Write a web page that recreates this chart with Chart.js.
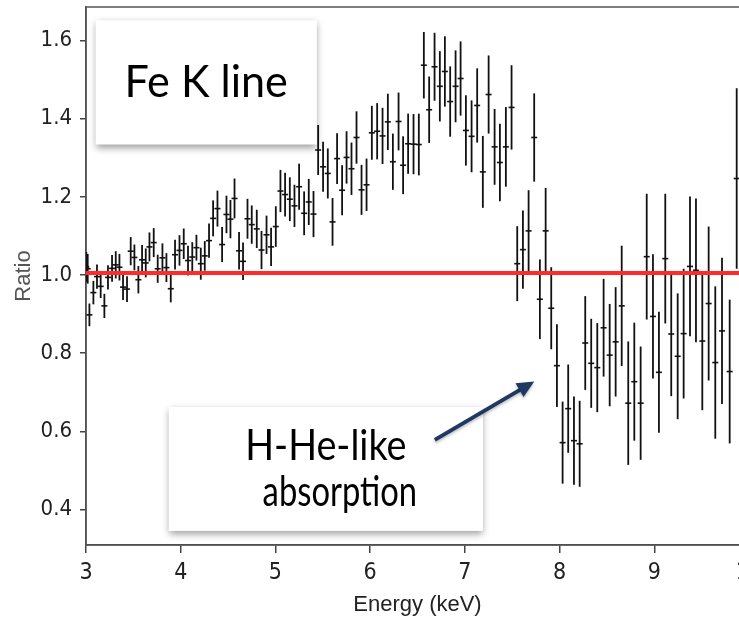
<!DOCTYPE html>
<html><head><meta charset="utf-8">
<style>
html,body{margin:0;padding:0;overflow:hidden;background:#fff}
#wrap{width:760px;height:620px;position:relative}
</style>
<script src="https://cdn.jsdelivr.net/npm/chart.js@4/dist/chart.umd.min.js"></script>
</head><body>
<div id="wrap"><canvas id="c" width="760" height="620"></canvas></div>
<script>
// ---- data ----
const energy = [3.003,3.018,3.036,3.078,3.116,3.155,3.194,3.232,3.275,3.314,
3.353,3.391,3.433,3.472,3.511,3.553,3.592,3.631,3.670,3.715,
3.757,3.807,3.849,3.895,3.940,3.987,4.032,4.077,4.122,4.166,
4.212,4.254,4.299,4.342,4.388,4.437,4.483,4.525,4.568,4.616,
4.658,4.705,4.750,4.803,4.853,4.906,4.954,5.004,5.053,5.102,
5.152,5.201,5.250,5.303,5.352,5.402,5.451,5.503,5.553,5.603,
5.651,5.704,5.751,5.803,5.856,5.909,5.962,6.018,6.074,6.131,
6.187,6.240,6.300,6.348,6.401,6.458,6.514,6.567,6.623,6.680,
6.736,6.789,6.845,6.902,6.955,7.011,7.071,7.130,7.190,7.251,
7.314,7.370,7.433,7.493,7.553,7.613,7.673,7.732,7.792,7.853,
7.912,7.972,8.032,8.091,8.152,8.212,8.271,8.334,8.398,8.465,
8.529,8.592,8.656,8.725,8.789,8.856,8.920,8.986,9.049,9.116,
9.179,9.247,9.310,9.377,9.440,9.507,9.574,9.644,9.715,9.796,
9.870];
const ratio = [1.021,1.016,0.898,0.955,0.996,0.971,0.921,0.994,1.017,1.026,
1.020,0.969,0.964,1.061,1.045,0.988,1.039,1.031,1.072,1.083,
1.016,1.044,1.019,0.965,1.052,1.063,1.080,1.037,1.046,1.070,
1.029,1.049,1.088,1.145,1.170,1.078,1.155,1.143,1.196,1.062,
1.035,1.144,1.129,1.118,1.064,1.103,1.072,1.124,1.215,1.206,
1.194,1.177,1.226,1.158,1.187,1.156,1.320,1.277,1.260,1.136,
1.298,1.217,1.301,1.272,1.352,1.218,1.231,1.364,1.368,1.356,
1.392,1.290,1.393,1.281,1.336,1.335,1.334,1.537,1.423,1.533,
1.483,1.521,1.444,1.483,1.503,1.370,1.355,1.434,1.264,1.462,
1.328,1.288,1.328,1.429,1.029,1.065,1.113,1.352,0.938,1.113,
0.915,0.768,0.571,0.658,0.576,0.568,0.826,0.774,0.763,0.865,
0.795,0.829,0.921,0.672,0.727,0.672,1.047,0.894,0.751,1.042,
0.849,0.792,0.850,1.022,1.012,0.831,0.927,0.776,0.857,0.753,
1.247];
const ratioErr = [0.038,0.038,0.029,0.030,0.031,0.030,0.031,0.031,0.034,0.035,
0.034,0.033,0.033,0.036,0.033,0.035,0.038,0.037,0.037,0.037,
0.036,0.037,0.037,0.035,0.038,0.039,0.039,0.038,0.038,0.033,
0.041,0.038,0.044,0.046,0.046,0.045,0.048,0.049,0.051,0.048,
0.048,0.051,0.049,0.049,0.049,0.049,0.049,0.052,0.054,0.056,
0.056,0.054,0.059,0.056,0.059,0.059,0.064,0.064,0.064,0.061,
0.065,0.064,0.067,0.067,0.067,0.064,0.067,0.069,0.072,0.072,
0.072,0.072,0.074,0.074,0.077,0.077,0.079,0.085,0.085,0.087,
0.090,0.090,0.090,0.092,0.095,0.090,0.092,0.095,0.092,0.100,
0.097,0.099,0.102,0.108,0.096,0.100,0.104,0.113,0.102,0.110,
0.105,0.106,0.105,0.113,0.113,0.110,0.120,0.114,0.114,0.125,
0.131,0.140,0.154,0.158,0.151,0.145,0.161,0.159,0.155,0.166,
0.159,0.161,0.166,0.179,0.184,0.177,0.197,0.195,0.187,0.184,
0.231];
const xTicks = [3,4,5,6,7,8,9,10];
const yTicks = [0.4,0.6,0.8,1.0,1.2,1.4,1.6];
const refEnergy = [3,10];
const refRatio = [1.005,1.005];
const xLabel = 'Energy (keV)';
const yLabel = 'Ratio';
const note1 = ['Fe K line'];
const note2 = ['H-He-like','absorption'];

// ---- style / layout ----
const X_MIN = 3, X_MAX = 10, Y_MIN = 0.309, Y_MAX = 1.686;
const box1 = {x0:3.102, x1:5.437, y0:1.652, y1:1.334};
const box2 = {x0:3.874, x1:7.191, y0:0.662, y1:0.345};
const arrow = {x0:6.683, y0:0.578, x1:7.732, y1:0.7275};
const TICK_FONT = '"DejaVu Sans Condensed", "Liberation Sans", sans-serif';

const errorBars = {
  id:'errorBars',
  beforeDatasetsDraw(chart){
    const {ctx, chartArea:a, scales:{x,y}} = chart;
    ctx.save();
    ctx.strokeStyle = '#555'; ctx.lineWidth = 1.5;
    ctx.strokeRect(a.left, a.top, a.width, a.height);
    ctx.beginPath(); ctx.rect(a.left, a.top, a.width, a.height); ctx.clip();
    ctx.strokeStyle = '#111'; ctx.lineWidth = 1.8;
    energy.forEach((e,i)=>{
      const px = x.getPixelForValue(e);
      ctx.beginPath();
      ctx.moveTo(px, y.getPixelForValue(ratio[i]+ratioErr[i]));
      ctx.lineTo(px, y.getPixelForValue(ratio[i]-ratioErr[i]));
      ctx.stroke();
    });
    ctx.restore();
  },
  afterDatasetsDraw(chart){
    const {ctx, scales:{x,y}} = chart;
    const drawBox = (b, lines, size, lineGap, sx, dx) => {
      const l = x.getPixelForValue(b.x0), r = x.getPixelForValue(b.x1);
      const t = y.getPixelForValue(b.y0), btm = y.getPixelForValue(b.y1);
      ctx.save();
      ctx.shadowColor = 'rgba(0,0,0,0.38)'; ctx.shadowBlur = 7; ctx.shadowOffsetY = 3;
      ctx.fillStyle = '#fff'; ctx.fillRect(l, t, r-l, btm-t);
      ctx.restore();
      ctx.save();
      ctx.fillStyle = '#000'; ctx.font = size+'px Lato'; ctx.textAlign='center'; ctx.textBaseline='middle';
      const cx = (l+r)/2, cy = (t+btm)/2;
      lines.forEach((s,k)=>{
        const yy = cy + (k-(lines.length-1)/2)*lineGap;
        ctx.save(); ctx.translate(cx + dx[k], yy); ctx.scale(sx[k],1); ctx.fillText(s,0,0); ctx.restore();
      });
      ctx.restore();
    };
    drawBox(box1, note1, 44, 0, [0.98], [0]);
    drawBox(box2, note2, 42, 46, [0.9, 0.78], [0, 14]);
    const ax0=x.getPixelForValue(arrow.x0), ay0=y.getPixelForValue(arrow.y0);
    const ax1=x.getPixelForValue(arrow.x1), ay1=y.getPixelForValue(arrow.y1);
    const ang = Math.atan2(ay1-ay0, ax1-ax0), hl=17, hw=8;
    ctx.save();
    ctx.shadowColor='rgba(0,0,0,0.25)'; ctx.shadowBlur=3; ctx.shadowOffsetY=2;
    ctx.strokeStyle='#1f3864'; ctx.fillStyle='#1f3864'; ctx.lineWidth=4;
    ctx.beginPath(); ctx.moveTo(ax0,ay0);
    ctx.lineTo(ax1-Math.cos(ang)*hl*0.8, ay1-Math.sin(ang)*hl*0.8); ctx.stroke();
    ctx.beginPath(); ctx.moveTo(ax1,ay1);
    ctx.lineTo(ax1-Math.cos(ang)*hl-Math.sin(ang)*hw, ay1-Math.sin(ang)*hl+Math.cos(ang)*hw);
    ctx.lineTo(ax1-Math.cos(ang)*hl+Math.sin(ang)*hw, ay1-Math.sin(ang)*hl-Math.cos(ang)*hw);
    ctx.closePath(); ctx.fill();
    ctx.restore();
  }
};

new Chart(document.getElementById('c'), {
  type:'scatter',
  data:{datasets:[
    {label:'ref', type:'line', data:refEnergy.map((e,i)=>({x:e,y:refRatio[i]})),
     borderColor:'#ff2a2a', borderWidth:4, pointRadius:0, order:0},
    {label:'ratio', data:energy.map((e,i)=>({x:e,y:ratio[i]})),
     pointStyle:'line', pointRadius:3, borderColor:'#111', borderWidth:1.6, order:1}
  ]},
  options:{
    responsive:false, animation:false, devicePixelRatio:1,
    layout:{padding:{top:7, right:11, left:0, bottom:0}},
    plugins:{legend:{display:false}, tooltip:{enabled:false}},
    scales:{
      x:{type:'linear', min:X_MIN, max:X_MAX,
        afterBuildTicks:s=>{s.ticks = xTicks.map(v=>({value:v}));},
        afterFit:s=>{s.height = 75; s.paddingLeft = 0; s.paddingRight = 0;},
        grid:{drawOnChartArea:false, drawTicks:true, tickLength:8, color:'#444', lineWidth:1.5},
        border:{display:true, color:'#444', width:1.5},
        ticks:{color:'#222', padding:6, font:{family:TICK_FONT, size:23}, callback:v=>String(v), autoSkip:false, maxRotation:0},
        title:{display:true, text:xLabel, color:'#222', font:{family:'"Liberation Sans"', size:22}, padding:{top:0,bottom:2}}
      },
      y:{type:'linear', min:Y_MIN, max:Y_MAX,
        afterBuildTicks:s=>{s.ticks = yTicks.map(v=>({value:v}));},
        afterFit:s=>{s.width = 86; s.paddingTop = 0; s.paddingBottom = 0;},
        grid:{drawOnChartArea:false, drawTicks:true, tickLength:6, color:'#444', lineWidth:1.5},
        border:{display:true, color:'#444', width:1.5},
        ticks:{color:'#222', padding:8, font:{family:TICK_FONT, size:22}, callback:v=>v.toFixed(1), autoSkip:false},
        title:{display:true, text:yLabel, color:'#555', font:{family:'"Liberation Sans"', size:22}, padding:{top:11,bottom:0}}
      }
    }
  },
  plugins:[errorBars]
});
</script>
</body></html>
